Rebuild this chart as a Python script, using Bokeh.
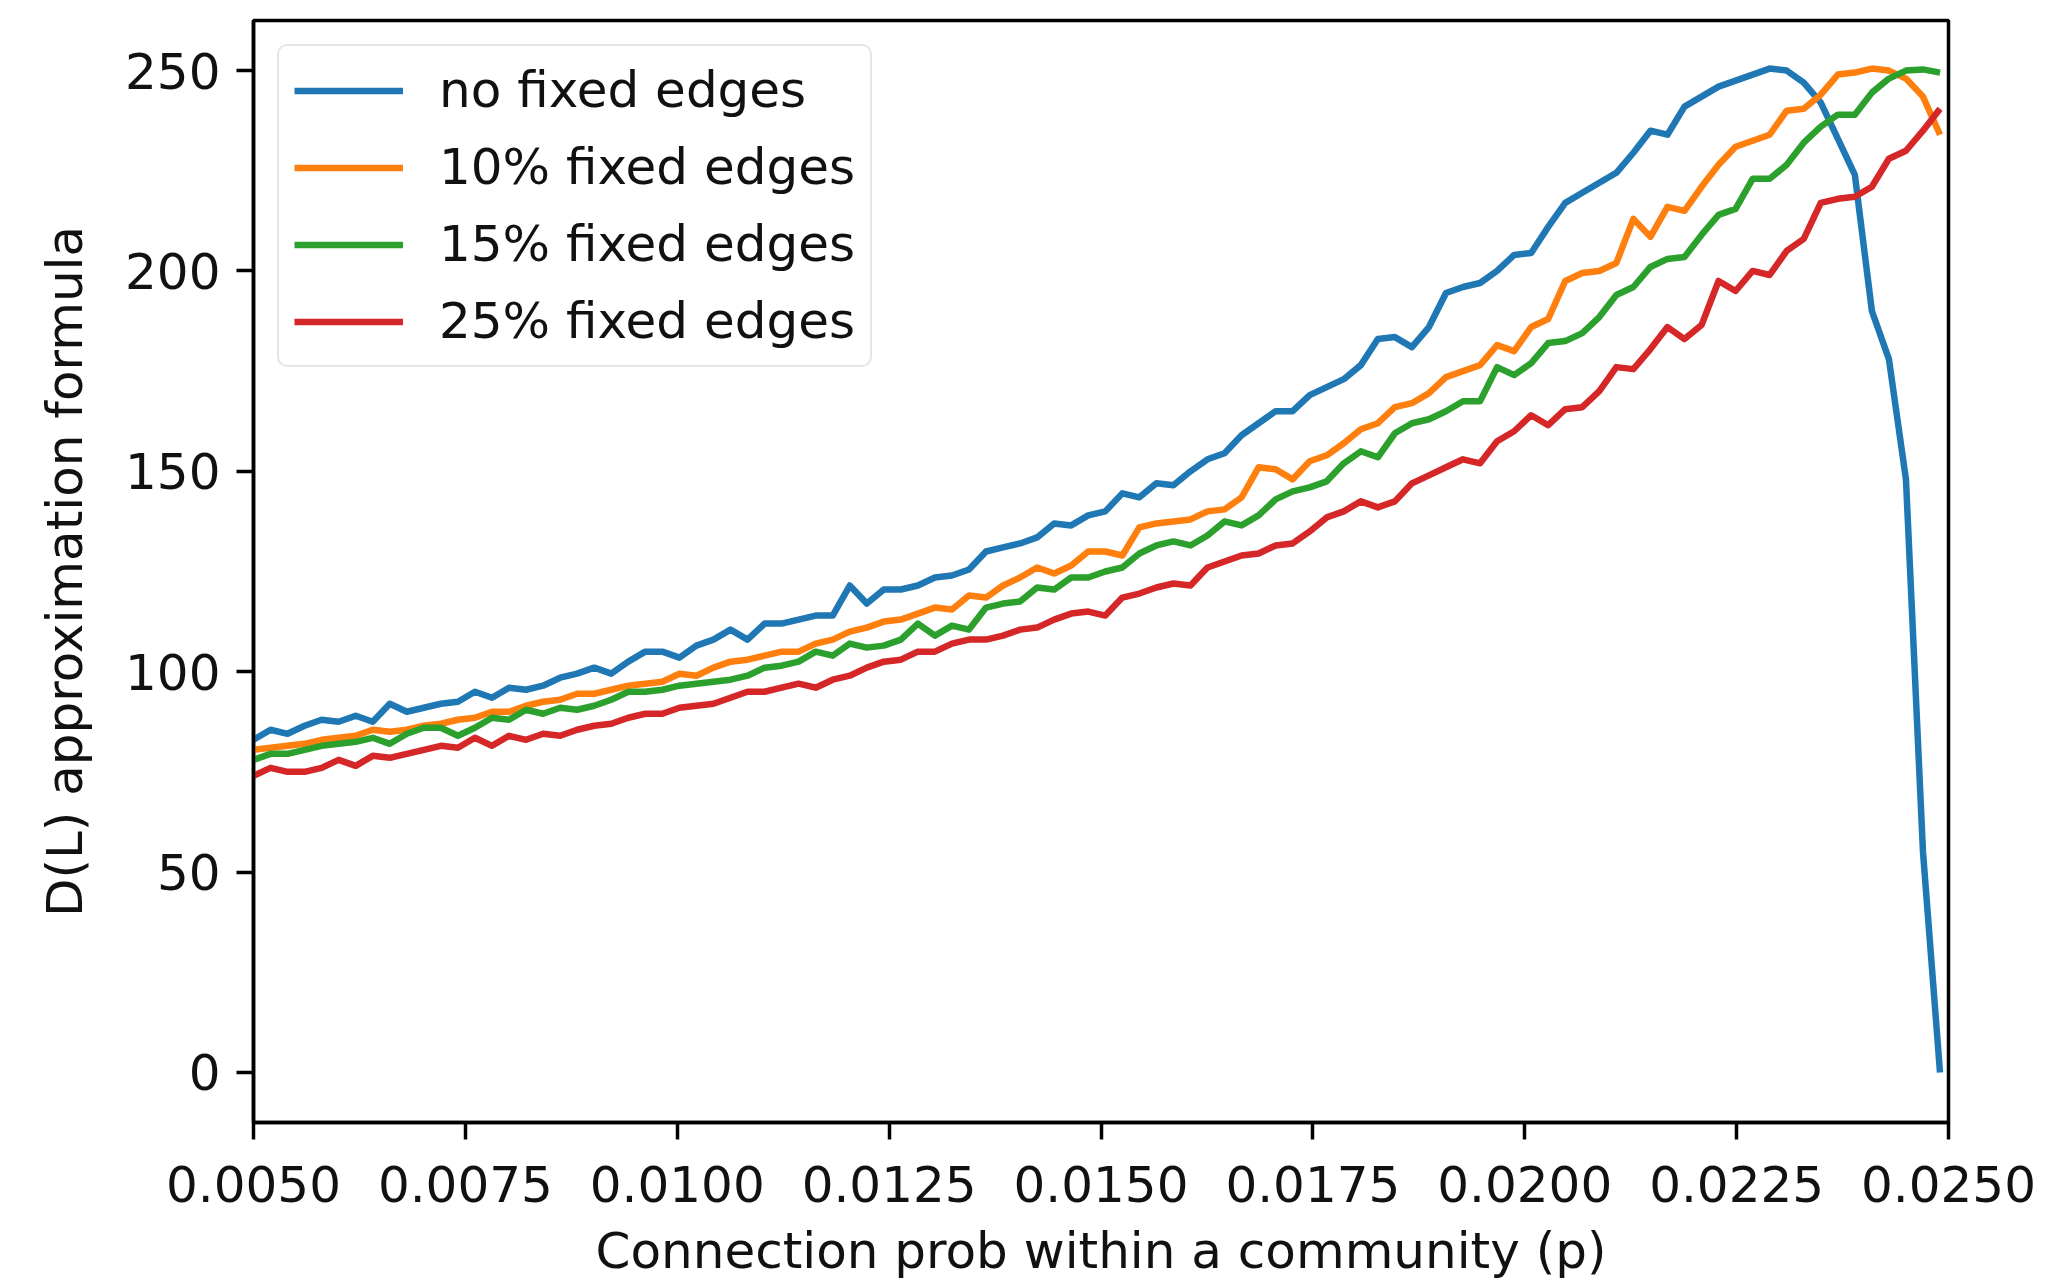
import numpy as np
from bokeh.plotting import figure
from bokeh.models import (Range1d, Legend, LegendItem, FixedTicker,
                          NumeralTickFormatter)
from bokeh.embed import file_html
from bokeh.resources import INLINE

# Connection probability within a community (p), 100 evenly spaced samples
p_values = np.linspace(0.005, 0.0249, 100)

# D(L) approximation formula for each share of fixed edges
no_fixed = [
    83, 85.5, 84.5, 86.5, 88, 87.5, 89, 87.5, 92, 90,
    91, 92, 92.5, 95, 93.5, 96, 95.5, 96.5, 98.5, 99.5,
    101, 99.5, 102.5, 105, 105, 103.5, 106.5, 108, 110.5, 108,
    112, 112, 113, 114, 114, 121.5, 117, 120.5, 120.5, 121.5,
    123.5, 124, 125.5, 130, 131, 132, 133.5, 137, 136.5, 139,
    140, 144.5, 143.5, 147, 146.5, 150, 153, 154.5, 159, 162,
    165, 165, 169, 171, 173, 176.5, 183, 183.5, 181, 186,
    194.5, 196, 197, 200, 204, 204.5, 211, 217, 219.5, 222,
    224.5, 229.5, 235, 234, 241, 243.5, 246, 247.5, 249, 250.5,
    250, 247, 242, 233, 224, 190, 178, 148, 55, 0,
]
fixed_10 = [
    80.5, 81, 81.5, 82, 83, 83.5, 84, 85.5, 85, 85.5,
    86.5, 87, 88, 88.5, 90, 90, 91.5, 92.5, 93, 94.5,
    94.5, 95.5, 96.5, 97, 97.5, 99.5, 99, 101, 102.5, 103,
    104, 105, 105, 107, 108, 110, 111, 112.5, 113, 114.5,
    116, 115.5, 119, 118.5, 121.5, 123.5, 126, 124.5, 126.5, 130,
    130, 129, 136, 137, 137.5, 138, 140, 140.5, 143.5, 151,
    150.5, 148, 152.5, 154, 157, 160.5, 162, 166, 167, 169.5,
    173.5, 175, 176.5, 181.5, 180, 186, 188, 197.5, 199.5, 200,
    202, 213, 208.5, 216, 215, 221, 226.5, 231, 232.5, 234,
    240, 240.5, 244, 249, 249.5, 250.5, 250, 248, 243.5, 234,
]
fixed_15 = [
    78, 79.5, 79.5, 80.5, 81.5, 82, 82.5, 83.5, 82, 84.5,
    86, 86, 84, 86, 88.5, 88, 90.5, 89.5, 91, 90.5,
    91.5, 93, 95, 95, 95.5, 96.5, 97, 97.5, 98, 99,
    101, 101.5, 102.5, 105, 104, 107, 106, 106.5, 108, 112,
    109, 111.5, 110.5, 116, 117, 117.5, 121, 120.5, 123.5, 123.5,
    125, 126, 129.5, 131.5, 132.5, 131.5, 134, 137.5, 136.5, 139,
    143, 145, 146, 147.5, 152, 155, 153.5, 159.5, 162, 163,
    165, 167.5, 167.5, 176, 174, 177, 182, 182.5, 184.5, 188.5,
    194, 196, 201, 203, 203.5, 209, 214, 215.5, 223, 223,
    226.5, 232, 236, 239, 239, 244.5, 248, 250, 250.3, 249.5,
]
fixed_25 = [
    74, 76, 75, 75, 76, 78, 76.5, 79, 78.5, 79.5,
    80.5, 81.5, 81, 83.5, 81.5, 84, 83, 84.5, 84, 85.5,
    86.5, 87, 88.5, 89.5, 89.5, 91, 91.5, 92, 93.5, 95,
    95, 96, 97, 96, 98, 99, 101, 102.5, 103, 105,
    105, 107, 108, 108, 109, 110.5, 111, 113, 114.5, 115,
    114, 118.5, 119.5, 121, 122, 121.5, 126, 127.5, 129, 129.5,
    131.5, 132, 135, 138.5, 140, 142.5, 141, 142.5, 147, 149,
    151, 153, 152, 157.5, 160, 164, 161.5, 165.5, 166, 170,
    176, 175.5, 180.5, 186, 183, 186.5, 197.5, 195, 200, 199,
    205, 208, 217, 218, 218.5, 221, 228, 230, 235, 240.5,
]

series_labels = ["no fixed edges", "10% fixed edges", "15% fixed edges",
                 "25% fixed edges"]
series_values = [no_fixed, fixed_10, fixed_15, fixed_25]
series_colors = ["#1f77b4", "#ff7f0e", "#2ca02c", "#d62728"]

x_ticks = [0.005, 0.0075, 0.01, 0.0125, 0.015, 0.0175, 0.02, 0.0225, 0.025]
y_ticks = [0, 50, 100, 150, 200, 250]

FONT = "DejaVu Sans"
FONT_SIZE = "50px"

p = figure(
    width=2065, height=1283,
    x_range=Range1d(0.005, 0.025), y_range=Range1d(-12.5, 262.5),
    output_backend="svg", toolbar_location=None,
    min_border_left=253, min_border_right=117,
    min_border_top=20, min_border_bottom=161,
)
p.background_fill_color = "white"
p.border_fill_color = "white"
p.outline_line_color = "black"
p.outline_line_width = 3.5
p.xgrid.visible = False
p.ygrid.visible = False

items = []
for label, vals, col in zip(series_labels, series_values, series_colors):
    r = p.line(p_values, vals, line_color=col, line_width=6.5,
               line_join="round")
    items.append(LegendItem(label=label, renderers=[r]))

for ax in (p.xaxis[0], p.yaxis[0]):
    ax.axis_line_color = "black"
    ax.axis_line_width = 3.5
    ax.major_tick_line_color = "black"
    ax.major_tick_line_width = 3.5
    ax.major_tick_in = 0
    ax.major_tick_out = 17
    ax.minor_tick_line_color = None
    ax.major_label_standoff = 16
    ax.major_label_text_font = FONT
    ax.major_label_text_font_size = FONT_SIZE
    ax.major_label_text_color = "#111111"
    ax.axis_label_text_font = FONT
    ax.axis_label_text_font_size = FONT_SIZE
    ax.axis_label_text_font_style = "normal"
    ax.axis_label_text_color = "#111111"

p.xaxis[0].ticker = FixedTicker(ticks=x_ticks)
p.xaxis[0].formatter = NumeralTickFormatter(format="0.0000")
p.xaxis[0].axis_label = "Connection prob within a community (p)"
p.xaxis[0].major_label_standoff = 26
p.xaxis[0].axis_label_standoff = 17

p.yaxis[0].ticker = FixedTicker(ticks=y_ticks)
p.yaxis[0].axis_label = "D(L) approximation formula"
p.yaxis[0].axis_label_standoff = 28

legend = Legend(
    items=items, location="top_left",
    margin=24, padding=15, spacing=19,
    glyph_width=109, glyph_height=57, label_height=57,
    label_standoff=36,
    label_text_font=FONT, label_text_font_size=FONT_SIZE,
    label_text_color="#111111",
    border_line_color="#cccccc", border_line_width=2.5,
    background_fill_color="white", background_fill_alpha=0.8,
)
if "border_radius" in Legend.properties():
    legend.border_radius = 10
p.add_layout(legend)

open("out.html", "w").write(file_html(p, INLINE))
